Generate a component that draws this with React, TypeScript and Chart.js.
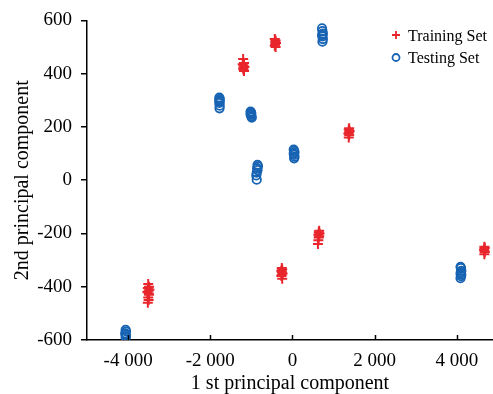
import React, { useEffect, useRef } from 'react';
import { Chart, registerables } from 'chart.js';

Chart.register(...registerables);

const FONT = "'Liberation Serif', 'Times New Roman', serif";
const RED = '#e8262c';
const BLUE = '#1763b3';

// Training set (red crosses)
const trainX = [
  -3510, -3490, -3520, -3480, -3500, -3530, -3500, -3490, -3510, -3500, -3520,
  -1200, -1180, -1210, -1190, -1170, -1200, -1190, -1180,
  -430, -410, -420, -400, -420, -430, -410,
  1380, 1370, 1390, 1380, 1360, 1380, 1370,
  650, 640, 660, 630, 650, 640, 630, 620,
  -260, -250, -270, -260, -240, -260, -270, -250,
  4670, 4680, 4660, 4670, 4680, 4670,
];
const trainY = [
  -390, -400, -405, -410, -415, -420, -425, -430, -440, -450, -460,
  455, 440, 435, 430, 425, 420, 415, 410,
  530, 525, 520, 515, 510, 505, 500,
  195, 190, 185, 180, 175, 170, 160,
  -190, -195, -200, -205, -210, -215, -225, -240,
  -330, -335, -340, -345, -350, -355, -360, -370,
  -250, -255, -260, -265, -270, -278,
];

// Testing set (blue circles)
const testX = [
  -4060, -4050, -4070, -4060, -4050, -4060,
  -1780, -1770, -1780, -1770, -1780, -1770, -1775,
  -1020, -1010, -1000, -1020, -1010, -1000, -990,
  -850, -840, -860, -850, -870, -880, -870,
  30, 40, 50, 30, 40, 50, 40,
  720, 730, 740, 720, 730, 740, 730,
  4090, 4100, 4110, 4100, 4090, 4110, 4100, 4090,
];
const testY = [
  -562, -568, -575, -580, -585, -590,
  310, 305, 300, 295, 290, 280, 270,
  258, 255, 250, 248, 245, 240, 235,
  58, 52, 45, 38, 28, 18, 2,
  115, 110, 105, 100, 95, 88, 82,
  570, 560, 550, 545, 540, 530, 520,
  -325, -330, -340, -345, -350, -355, -360, -368,
];

const seriesLabels = ['Training Set', 'Testing Set'];
const xTickValues = [-4000, -2000, 0, 2000, 4000];
const xTickLabels = ['-4 000', '-2 000', '0', '2 000', '4 000'];
const yTickValues = [-600, -400, -200, 0, 200, 400, 600];
const yTickLabels = ['-600', '-400', '-200', '0', '200', '400', '600'];
const xTitle = '1 st principal component';
const yTitle = '2nd principal component';

const cornerPlugin = {
  id: 'cornerExtras',
  afterDraw(chart: any) {
    const ctx = chart.ctx;
    const xs = chart.scales.x;
    const bottom = chart.chartArea.bottom;
    ctx.save();
    // inward x ticks
    ctx.strokeStyle = '#000';
    ctx.lineWidth = 1.5;
    xs.ticks.forEach((t: any) => {
      const px = Math.round(xs.getPixelForValue(t.value)) + 0.5;
      ctx.beginPath();
      ctx.moveTo(px, bottom);
      ctx.lineTo(px, bottom - 5);
      ctx.stroke();
    });
    // legend
    ctx.font = `16px ${FONT}`;
    ctx.textBaseline = 'middle';
    ctx.textAlign = 'left';
    chart.data.datasets.forEach((ds: any, i: number) => {
      const mx = 396;
      const my = 35 + i * 22.5;
      ctx.strokeStyle = ds.borderColor;
      ctx.lineWidth = 1.8;
      ctx.beginPath();
      if (ds.pointStyle === 'cross') {
        ctx.moveTo(mx - 4, my);
        ctx.lineTo(mx + 4, my);
        ctx.moveTo(mx, my - 4);
        ctx.lineTo(mx, my + 4);
      } else {
        ctx.arc(mx, my, 3.5, 0, Math.PI * 2);
      }
      ctx.stroke();
      ctx.fillStyle = '#000';
      ctx.fillText(ds.label, 408, my + 1.5);
    });
    ctx.restore();
  },
};

export default function App() {
  const ref = useRef<HTMLCanvasElement>(null);
  useEffect(() => {
    if (!ref.current) return;
    const chart = new Chart(ref.current, {
      type: 'scatter',
      data: {
        datasets: [
          {
            label: seriesLabels[0],
            data: trainX.map((x, i) => ({ x, y: trainY[i] })),
            pointStyle: 'cross',
            pointRadius: 5,
            borderColor: RED,
            backgroundColor: RED,
            borderWidth: 2,
          },
          {
            label: seriesLabels[1],
            data: testX.map((x, i) => ({ x, y: testY[i] })),
            pointStyle: 'circle',
            pointRadius: 4.2,
            borderColor: BLUE,
            backgroundColor: 'rgba(0,0,0,0)',
            borderWidth: 1.8,
          },
        ],
      },
      options: {
        responsive: false,
        animation: false,
        layout: { autoPadding: false, padding: { top: 18, right: 0, left: 0, bottom: 0 } },
        plugins: { legend: { display: false }, tooltip: { enabled: false } },
        scales: {
          x: {
            type: 'linear',
            min: -5000,
            max: 4880,
            afterBuildTicks: (s: any) => {
              s.ticks = xTickValues.map((v) => ({ value: v }));
            },
            afterFit: (s: any) => {
              s.height = 54;
              s.paddingLeft = 0;
              s.paddingRight = 0;
            },
            grid: { display: false },
            border: { display: true, color: '#000', width: 1.5 },
            ticks: {
              color: '#000',
              padding: 2,
              font: { family: FONT, size: 19 },
              maxRotation: 0,
              callback: (v: any) => {
                const i = xTickValues.indexOf(Number(v));
                return i >= 0 ? xTickLabels[i] : '';
              },
            },
            title: {
              display: true,
              text: xTitle,
              color: '#000',
              font: { family: FONT, size: 20, lineHeight: 1 },
              padding: 0,
            },
          },
          y: {
            type: 'linear',
            min: -600,
            max: 600,
            afterBuildTicks: (s: any) => {
              s.ticks = yTickValues.map((v) => ({ value: v }));
            },
            afterFit: (s: any) => {
              s.width = 87;
            },
            grid: {
              display: true,
              drawOnChartArea: false,
              drawTicks: true,
              tickLength: 6,
              color: '#000',
              lineWidth: 1.5,
            },
            border: { display: true, color: '#000', width: 1.5 },
            ticks: {
              color: '#000',
              padding: 9,
              font: { family: FONT, size: 19 },
              callback: (v: any) => {
                const i = yTickValues.indexOf(Number(v));
                return i >= 0 ? yTickLabels[i] : '';
              },
            },
            title: {
              display: true,
              text: yTitle,
              color: '#000',
              font: { family: FONT, size: 20, lineHeight: 1 },
              padding: { top: 13, bottom: 0 },
            },
          },
        },
      },
      plugins: [cornerPlugin],
    });
    return () => chart.destroy();
  }, []);
  return (
    <div style={{ position: 'absolute', left: 0, top: 0, width: 493, height: 394, background: '#fff' }}>
      <canvas ref={ref} width={493} height={394} />
    </div>
  );
}
